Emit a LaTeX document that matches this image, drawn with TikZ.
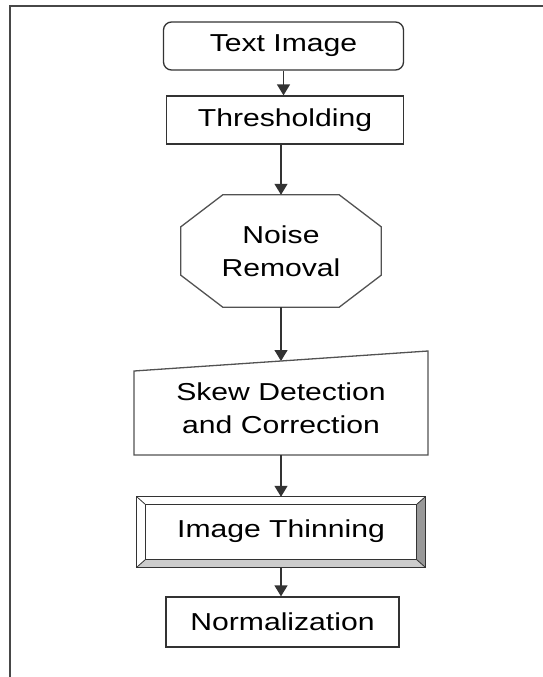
\documentclass[tikz,border=0pt]{standalone}
\usepackage{fontspec}
\setmainfont{Liberation Sans}[FakeStretch=1.23]
\usetikzlibrary{arrows.meta,calc}
\definecolor{ink}{HTML}{333333}
\definecolor{bevelR}{HTML}{999999}
\definecolor{bevelB}{HTML}{CCCCCC}
\begin{document}
\begin{tikzpicture}[x=1pt,y=-1pt,
  every node/.style={font=\fontsize{24.5}{33}\selectfont, text=black, inner sep=0pt},
  plainbox/.style={draw=ink, line width=1.3pt, rectangle},
  roundbox/.style={draw=ink, line width=1.3pt, rectangle, rounded corners=8pt},
  shapeline/.style={draw=ink!85, line width=1.3pt, line join=miter},
  arr/.style={draw=ink, line width=1.3pt, -{Triangle[width=13pt,length=11pt]}},
  frameline/.style={draw=ink!90, line width=2.4pt}]
\useasboundingbox (0,0) rectangle (543,677);

% outer frame: top and left edges only
\coordinate (frTL) at (10,6);
\coordinate (frTR) at (543,6);
\coordinate (frBL) at (10,677);
\draw[frameline] (frTR) -- (frTL) -- (frBL);

% 1: start terminal
\node[roundbox, minimum width=240pt, minimum height=48pt] (img) at (283.5,46) {Text Image};

% 2: thresholding
\node[plainbox, minimum width=237pt, minimum height=48pt] (thr) at (285,120) {Thresholding};
\coordinate (thrOut) at ($(thr.south)+(-4,0)$);

% 3: octagon
\node[minimum width=200pt, minimum height=112pt] (noise) at (281,251) {};
\draw[shapeline]
  ($(noise.north west)+(42,0)$) -- ($(noise.north east)+(-42,0)$)
  -- ($(noise.north east)+(0,32)$) -- ($(noise.south east)+(0,-32)$)
  -- ($(noise.south east)+(-42,0)$) -- ($(noise.south west)+(42,0)$)
  -- ($(noise.south west)+(0,-32)$) -- ($(noise.north west)+(0,32)$) -- cycle;
\node[align=center] (noiseT) at (281,251) {Noise\\Removal};

% 4: manual input shape with slanted top
\coordinate (skTL) at (134,371);
\coordinate (skTR) at (428,351);
\coordinate (skBR) at (428,455);
\coordinate (skBL) at (134,455);
\draw[shapeline] (skTL) -- (skTR) -- (skBR) -- (skBL) -- cycle;
\coordinate (skIn) at (281,361);
\coordinate (skOut) at (281,455);
\node[align=center] (skew) at (281,408) {Skew Detection\\and Correction};

% 5: bevelled box
\node[minimum width=288pt, minimum height=70pt] (thin) at (281,532) {};
\coordinate (tiNW) at ($(thin.north west)+(9,8)$);
\coordinate (tiNE) at ($(thin.north east)+(-9,8)$);
\coordinate (tiSE) at ($(thin.south east)+(-9,-8)$);
\coordinate (tiSW) at ($(thin.south west)+(9,-8)$);
\fill[bevelR] (thin.north east) -- (thin.south east) -- (tiSE) -- (tiNE) -- cycle;
\fill[bevelB] (thin.south west) -- (thin.south east) -- (tiSE) -- (tiSW) -- cycle;
\draw[ink, line width=1.3pt] (thin.north west) rectangle (thin.south east);
\draw[ink, line width=1.3pt] (tiNW) rectangle (tiSE);
\draw[ink, line width=0.8pt] (thin.north west) -- (tiNW) (thin.north east) -- (tiNE)
  (thin.south east) -- (tiSE) (thin.south west) -- (tiSW);
\node (thinT) at (281,531) {Image Thinning};

% 6: normalization
\node[plainbox, minimum width=233pt, minimum height=50pt] (norm) at (282.5,622) {Normalization};

% connectors
\draw[arr] (img.south) -- (img.south |- thr.north);
\draw[arr] (thrOut) -- (thrOut |- noise.north);
\draw[arr] (noise.south) -- (skIn);
\draw[arr] (skOut) -- (skOut |- thin.north);
\draw[arr] (thin.south) -- (thin.south |- norm.north);
\end{tikzpicture}
\end{document}
